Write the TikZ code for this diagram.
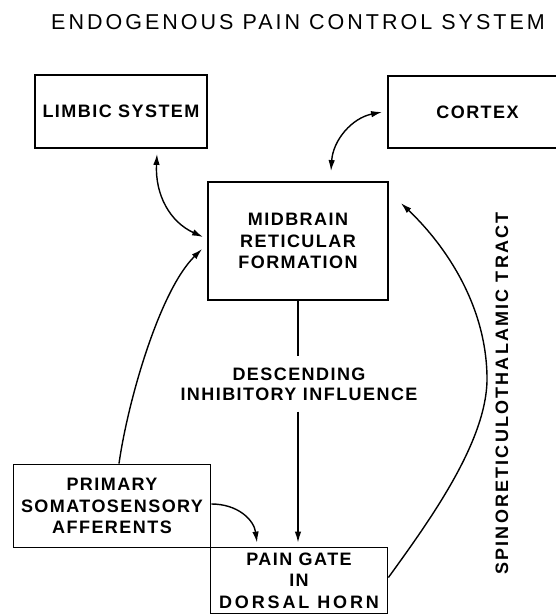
\documentclass[tikz,border=0pt]{standalone}
\usepackage{fontspec}
\setmainfont{Liberation Sans}
\newfontfamily\labelfont{Liberation Sans}[LetterSpace=8]
\newfontfamily\widefont{Liberation Sans}[LetterSpace=12]
\newfontfamily\headfont{Liberation Sans}[LetterSpace=14]
\usetikzlibrary{arrows.meta}

\begin{document}
\begin{tikzpicture}[x=1pt,y=-1pt,
  box/.style={draw, line width=1.8pt, inner sep=0pt, align=center,
    font=\labelfont\bfseries\fontsize{18}{21.5}\selectfont},
  plain/.style={inner sep=0pt, align=center,
    font=\labelfont\bfseries\fontsize{18}{20}\selectfont},
  link/.style={line width=1.4pt},
  tip/.style={-{Latex[length=11pt,width=6.5pt]}},
  both/.style={{Latex[length=11pt,width=6.5pt]}-{Latex[length=11pt,width=6.5pt]}}
]
\useasboundingbox (0,0) rectangle (556,615);
\clip (0,0) rectangle (556,615);

% title
\node[anchor=base, inner sep=0pt, font=\headfont\fontsize{21.5}{21.5}\selectfont]
  (title) at (298,29.5) {ENDOGENOUS PAIN CONTROL SYSTEM};

% boxes
\node[box, minimum width=172, minimum height=73] (limbic) at (121,111.5) {LIMBIC SYSTEM};
\node[box, minimum width=179, minimum height=72] (cortex) at (477.5,112) {CORTEX};
\node[box, minimum width=180, minimum height=118] (mid) at (298,241)
  {MIDBRAIN\\RETICULAR\\FORMATION};
\node[box, minimum width=197, minimum height=83] (prim) at (112,506)
  {PRIMARY\\SOMATOSENSORY\\AFFERENTS};
\node[box, minimum width=177, minimum height=66] (pain) at (299,580.5)
  {PAIN GATE\\IN\\{\addfontfeature{LetterSpace=16}DORSAL HORN}};

% label on the descending pathway
\node[plain, inner ysep=11pt] (desc) at (299,384)
  {DESCENDING\\INHIBITORY INFLUENCE};

% side label
\node[plain, rotate=90, anchor=base, font=\widefont\bfseries\fontsize{18}{20}\selectfont]
  (spino) at (508,393.5) {SPINORETICULOTHALAMIC TRACT};

% connectors
\draw[link, both] ([shift={(36,5)}]limbic.south)
  .. controls (155,195) and (170,222) .. ([shift={(-4,-4)}]mid.west);
\draw[link, both] ([shift={(33,-10)}]mid.north)
  .. controls (333,140) and (352,118) .. ([shift={(-5,0)}]cortex.west);
\draw[link, tip] ([shift={(7,0)}]prim.north)
  .. controls (128,400) and (160,290) .. ([shift={(-5,8)}]mid.west);
\draw[link, tip] ([shift={(0,-2)}]prim.east)
  .. controls (238,504) and (254,520) .. ([shift={(-42,-4)}]pain.north);
\draw[link] (mid.south) -- (mid.south |- desc.north);
\draw[link, tip, shorten >=4pt] (mid.south |- desc.south) -- (mid.south |- pain.north);
\draw[link, tip] ([shift={(0,-3)}]pain.east)
  .. controls (430,520) and (488,440) .. (487,377)
  .. controls (486,300) and (440,240) .. ([shift={(12,22)}]mid.north east);
\end{tikzpicture}
\end{document}
